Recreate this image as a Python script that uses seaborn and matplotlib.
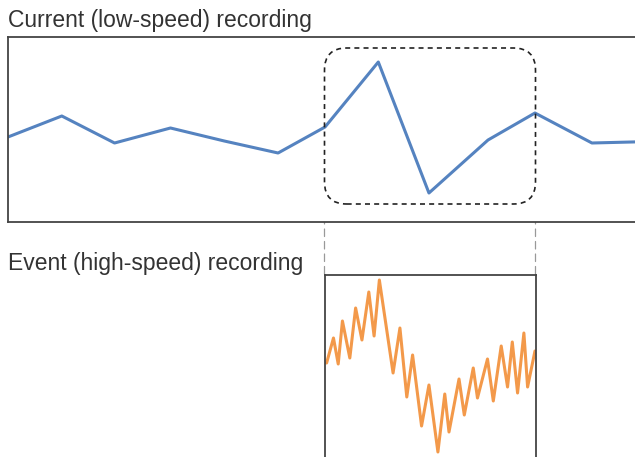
import matplotlib
matplotlib.use("Agg")
import matplotlib.pyplot as plt
from matplotlib.patches import FancyBboxPatch, ConnectionPatch
import seaborn as sns
import pandas as pd

# low-speed recording: samples at (slightly uneven) time steps
current_t = [0, 1.02, 2.02, 3.08, 4.1, 5.12, 6.01, 7.02, 7.98, 9.10, 9.99, 11.07, 12.2]
current_v = [85, 106, 79, 94, 81, 69, 95, 160, 29, 82, 109, 79, 80.5]

# high-speed recording of the event window (t = 6 .. 10)
event_t = [6.04, 6.17, 6.26, 6.34, 6.48, 6.59, 6.71, 6.84, 6.94, 7.04,
           7.30, 7.43, 7.56, 7.67, 7.84, 7.98, 8.15, 8.28, 8.36, 8.55,
           8.65, 8.82, 8.90, 9.09, 9.20, 9.35, 9.47, 9.56, 9.66, 9.78,
           9.85, 9.99]
event_v = [97, 122, 96, 139, 102, 152, 120, 168, 124, 180,
           87, 132, 63, 105, 34, 75, 8, 66, 28, 81,
           45, 92, 62, 101, 59, 114, 73, 118, 67, 127,
           73, 109]

window = (6, 10)
box_v = (18, 174)

blue = "#5583c0"
orange = "#f3994a"
frame = "#444444"

sns.set_style("white")
plt.rcParams["font.family"] = ["Liberation Sans", "DejaVu Sans"]

fig = plt.figure(figsize=(6.35, 4.57), dpi=100)
W, H = 635, 457

# top axes (runs off the right edge of the figure like the original)
ax_top = fig.add_axes([8 / W, 1 - 222 / H, 12.5 * 52.75 / W, 185 / H])
# bottom axes spans the event window only
ax_bot = fig.add_axes([324.5 / W, 1 - 465 / H, 211 / W, 190 / H])

df_cur = pd.DataFrame({"t": current_t, "v": current_v})
df_evt = pd.DataFrame({"t": event_t, "v": event_v})

sns.lineplot(data=df_cur, x="t", y="v", ax=ax_top, color=blue, linewidth=2.2)
sns.lineplot(data=df_evt, x="t", y="v", ax=ax_bot, color=orange, linewidth=2.2)

ax_top.set_xlim(0, 12.5)
ax_top.set_ylim(0, 185)
ax_bot.set_xlim(*window)
ax_bot.set_ylim(-5, 185)

for ax in (ax_top, ax_bot):
    ax.set_xticks([])
    ax.set_yticks([])
    ax.set_xlabel("")
    ax.set_ylabel("")
    for s in ax.spines.values():
        s.set_color(frame)
        s.set_linewidth(1.3)
        s.set_visible(True)

# rounded dashed box marking the window in the top panel
fig.canvas.draw()
(x0, y0), (x1, y1) = ax_top.transData.transform([(0, 0), (1, 1)])
aspect = (x1 - x0) / (y1 - y0)
box = FancyBboxPatch((window[0], box_v[0]), window[1] - window[0], box_v[1] - box_v[0],
                     boxstyle="round,pad=0,rounding_size=0.42",
                     mutation_aspect=aspect,
                     transform=ax_top.transData, fill=False,
                     edgecolor="#222222", linewidth=1.2,
                     linestyle=(0, (3, 2.5)), clip_on=False, zorder=5)
ax_top.add_patch(box)

# gray dashed guides down to the high-speed panel
for tx in window:
    con = ConnectionPatch(xyA=(tx, box_v[0]), coordsA=ax_top.transData,
                          xyB=(tx, 185), coordsB=ax_bot.transData,
                          color="#999999", linewidth=0.9,
                          linestyle=(0, (6, 4)), zorder=0)
    fig.add_artist(con)

fig.text(8 / W, 1 - 27 / H, "Current (low-speed) recording",
         fontsize=16.5, color="#333333", va="baseline", ha="left")
fig.text(8 / W, 1 - 270 / H, "Event (high-speed) recording",
         fontsize=16.5, color="#333333", va="baseline", ha="left")

fig.savefig("out.png", dpi=100)
